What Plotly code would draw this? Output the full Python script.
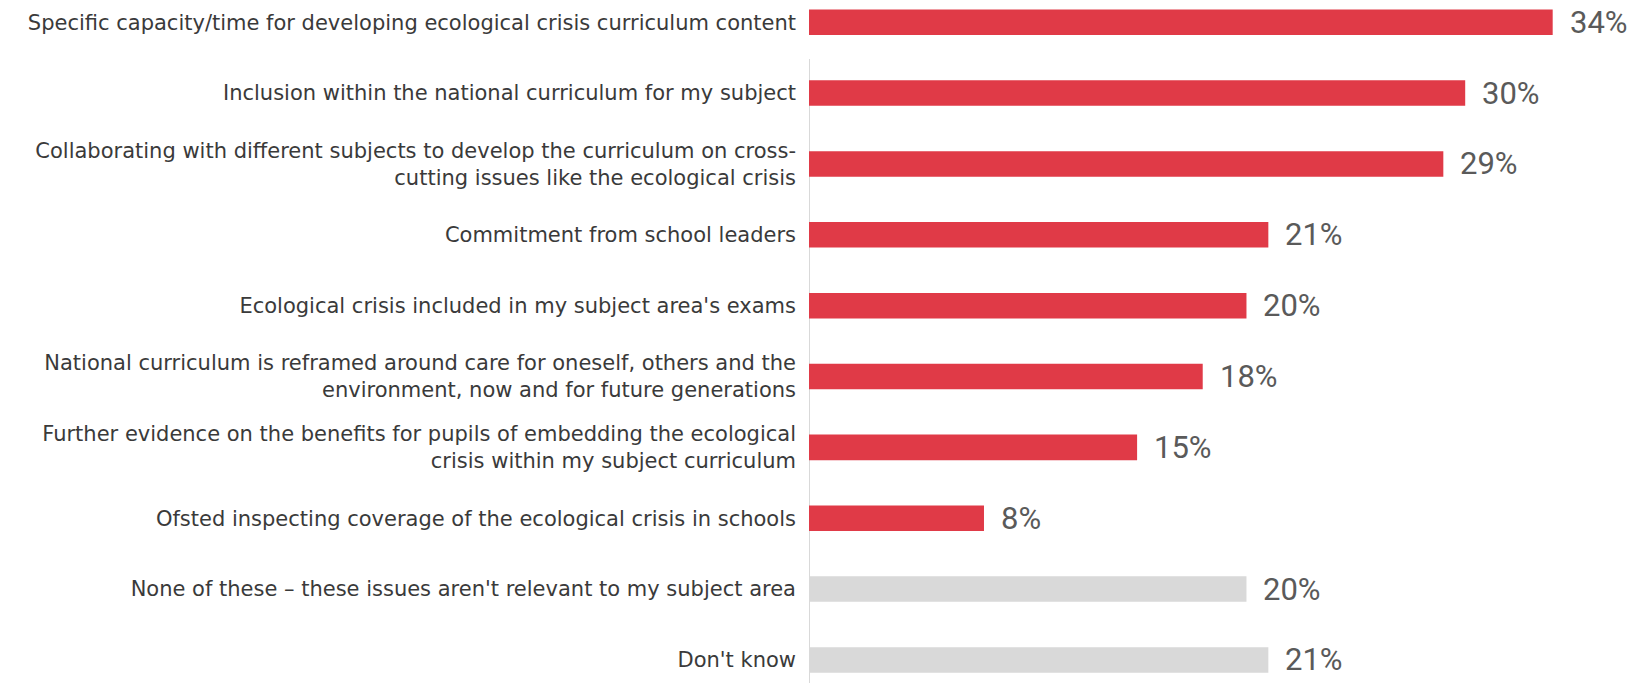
import plotly.graph_objects as go

categories = [
    "Specific capacity/time for developing ecological crisis curriculum content",
    "Inclusion within the national curriculum for my subject",
    "Collaborating with different subjects to develop the curriculum on cross-<br>cutting issues like the ecological crisis",
    "Commitment from school leaders",
    "Ecological crisis included in my subject area's exams",
    "National curriculum is reframed around care for oneself, others and the<br>environment, now and for future generations",
    "Further evidence on the benefits for pupils of embedding the ecological<br>crisis within my subject curriculum",
    "Ofsted inspecting coverage of the ecological crisis in schools",
    "None of these \u2013 these issues aren't relevant to my subject area",
    "Don't know",
]
values = [34, 30, 29, 21, 20, 18, 15, 8, 20, 21]
groups = ["main"] * 8 + ["other"] * 2

RED = "#E03A47"
GREY = "#D9D9D9"
colors = [RED if g == "main" else GREY for g in groups]

idx = list(range(len(categories)))

fig = go.Figure()
fig.add_trace(go.Bar(
    x=values, y=idx, orientation="h",
    marker=dict(color=colors, line=dict(width=0)),
    width=0.36, hoverinfo="skip",
))

for i, v in zip(idx, values):
    fig.add_annotation(x=v, y=i, xref="x", yref="y", text=f"{v}%",
                       showarrow=False, xanchor="left", yanchor="middle",
                       xshift=16, borderpad=0,
                       font=dict(size=31, color="#5A5A5A", family="Roboto"))

fig.add_shape(type="line", xref="x", yref="y", x0=0, x1=0, y0=0.52, y1=9.325,
              line=dict(color="#D9D9D9", width=2), layer="below")

fig.update_layout(
    width=1630, height=675,
    margin=dict(l=801, r=0, t=0, b=0),
    paper_bgcolor="white", plot_bgcolor="white",
    showlegend=False,
    font=dict(family="DejaVu Sans", size=21, color="#3A3A3A"),
    xaxis=dict(range=[0, 37.9], visible=False, fixedrange=True),
    yaxis=dict(range=[9.325, -0.2], tickmode="array", tickvals=idx, ticktext=categories,
               showgrid=False, zeroline=False, showline=False, ticks="",
               automargin=False, ticklabelstandoff=12,
               tickfont=dict(size=21, color="#3A3A3A", family="DejaVu Sans")),
)

fig.write_html("out.html")
